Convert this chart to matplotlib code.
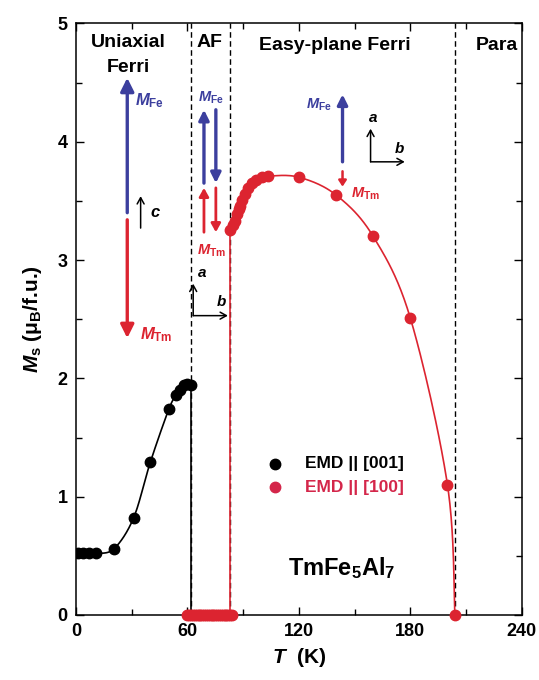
import numpy as np
import matplotlib
matplotlib.use("Agg")
import matplotlib.pyplot as plt
from matplotlib.ticker import MultipleLocator

plt.rcParams['font.family'] = ['Liberation Sans', 'DejaVu Sans']
plt.rcParams['font.weight'] = 'bold'
plt.rcParams['mathtext.fontset'] = 'custom'
plt.rcParams['mathtext.it'] = 'Liberation Sans:italic:bold'
plt.rcParams['mathtext.rm'] = 'Liberation Sans:bold'
plt.rcParams['mathtext.bf'] = 'Liberation Sans:bold'

# Saturation magnetisation, EMD || [001] (uniaxial ferrimagnet)
T_001 = [1, 4, 7, 11, 20.5, 31, 40, 50, 54, 56, 58, 60, 62]
M_001 = [0.52, 0.52, 0.52, 0.52, 0.56, 0.82, 1.29, 1.74, 1.86, 1.90, 1.94, 1.95, 1.94]

# EMD || [100]: zero moment in the AF range
T_af = list(range(60, 85))
M_af = [0.0] * len(T_af)

# EMD || [100]: easy-plane ferrimagnet
T_100 = [83, 84.5, 85.5, 86.5, 87.5, 88.3, 89.5, 91, 92.5, 94.5, 97, 100, 103.5,
         120, 140, 160, 180, 200, 204]
M_100 = [3.25, 3.30, 3.33, 3.39, 3.43, 3.46, 3.51, 3.56, 3.61, 3.65, 3.68, 3.70, 3.71,
         3.70, 3.55, 3.20, 2.51, 1.10, 0.0]

# Phase boundaries (K)
T_bounds = [62, 83, 204]

BLUE = '#3c3f9e'
RED = '#dc2430'
PINK = '#d4264a'


def smooth(xs, ys, n=24):
    """Catmull-Rom curve through the given points (for the guide line)."""
    P = np.column_stack([xs, ys]).astype(float)
    P = np.vstack([P[0], P, P[-1]])
    out = []
    t = np.linspace(0, 1, n, endpoint=False)[:, None]
    for i in range(1, len(P) - 2):
        p0, p1, p2, p3 = P[i - 1], P[i], P[i + 1], P[i + 2]
        m1 = (p2 - p0) / 2
        m2 = (p3 - p1) / 2
        h00 = 2 * t**3 - 3 * t**2 + 1
        h10 = t**3 - 2 * t**2 + t
        h01 = -2 * t**3 + 3 * t**2
        h11 = t**3 - t**2
        out.append(h00 * p1 + h10 * m1 + h01 * p2 + h11 * m2)
    out.append(P[-2][None, :])
    c = np.vstack(out)
    return c[:, 0], c[:, 1]


fig = plt.figure(figsize=(5.39, 6.80), dpi=100)
ax = fig.add_axes([0.141, 0.0956, 0.827, 0.870])

# phase boundaries
for tb in T_bounds:
    ax.axvline(tb, color='black', ls=(0, (4, 2.5)), lw=1.0, zorder=1)

# guide lines
sx, sy = smooth(T_001, M_001)
ax.plot(sx, sy, color='black', lw=1.2, zorder=2)
ax.plot([T_001[-1], T_001[-1]], [M_001[-1], 0], color='black', lw=1.2, zorder=2)
rx, ry = smooth(T_100, M_100)
ax.plot(rx, ry, color=RED, lw=1.2, zorder=2)
ax.plot([T_100[0], T_100[0]], [0, M_100[0]], color=RED, lw=1.2, zorder=2)

# data points
ax.plot(T_001, M_001, 'o', color='black', ms=7.5, zorder=3)
ax.plot(T_af, M_af, 'o', color=RED, ms=7.5, zorder=3, clip_on=False)
ax.plot(T_100, M_100, 'o', color=RED, ms=7.5, zorder=3, clip_on=False)

ax.set_xlim(0, 240)
ax.set_ylim(0, 5)
ax.xaxis.set_major_locator(MultipleLocator(60))
ax.xaxis.set_minor_locator(MultipleLocator(30))
ax.yaxis.set_major_locator(MultipleLocator(1))
ax.yaxis.set_minor_locator(MultipleLocator(0.5))
ax.tick_params(which='both', direction='in', top=True, right=True, width=1.0,
               labelsize=13, pad=6)
ax.tick_params(which='major', length=6)
ax.tick_params(which='minor', length=4)
for lab in ax.get_xticklabels() + ax.get_yticklabels():
    lab.set_fontweight('bold')
for sp in ax.spines.values():
    sp.set_linewidth(1.1)

ax.set_xlabel(r'$T$  (K)', fontsize=15, fontweight='bold', labelpad=4)
ax.set_ylabel(r'$M_{\mathrm{s}}$ (μ$_{\mathrm{B}}$/f.u.)', fontsize=15,
              fontweight='bold', labelpad=10)

# phase names
ax.text(28, 4.84, 'Uniaxial', ha='center', va='center', fontsize=14, fontweight='bold')
ax.text(28, 4.63, 'Ferri', ha='center', va='center', fontsize=14, fontweight='bold')
ax.text(72, 4.84, 'AF', ha='center', va='center', fontsize=14, fontweight='bold')
ax.text(139.4, 4.81, 'Easy-plane Ferri', ha='center', va='center', fontsize=14,
        fontweight='bold')
ax.text(226.6, 4.81, 'Para', ha='center', va='center', fontsize=14,
        fontweight='bold')


def arrow(x0, y0, x1, y1, color, lw=2.6, hw=9, hl=14):
    ax.annotate('', xy=(x1, y1), xytext=(x0, y0),
                arrowprops=dict(arrowstyle=f'-|>,head_width={hw/20:.2f},head_length={hl/20:.2f}',
                                color=color, lw=lw, shrinkA=0, shrinkB=0),
                zorder=4)


def thin_arrow(x0, y0, x1, y1):
    ax.annotate('', xy=(x1, y1), xytext=(x0, y0),
                arrowprops=dict(arrowstyle='->,head_width=0.25,head_length=0.45',
                                color='black', lw=1.1, shrinkA=0, shrinkB=0),
                zorder=4)


# uniaxial ferrimagnet moments
arrow(27.6, 3.40, 27.6, 4.54, BLUE, lw=2.4, hw=8, hl=16)
arrow(27.6, 3.34, 27.6, 2.34, RED, lw=2.4, hw=8, hl=16)
ax.text(31.8, 4.35, r'$M_{\mathrm{Fe}}$', color=BLUE, fontsize=12, ha='left', va='center')
ax.text(34.4, 2.37, r'$M_{\mathrm{Tm}}$', color=RED, fontsize=12, ha='left', va='center')
thin_arrow(34.8, 3.27, 34.8, 3.54)
ax.text(40.0, 3.40, r'$c$', fontsize=12, ha='left', va='center')

# antiferromagnet moments
arrow(68.9, 3.65, 68.9, 4.27, BLUE, lw=2.4, hw=6, hl=12)
arrow(75.3, 4.27, 75.3, 3.65, BLUE, lw=2.4, hw=6, hl=12)
arrow(68.9, 3.235, 68.9, 3.61, RED, lw=2.0, hw=5.5, hl=10)
arrow(75.3, 3.61, 75.3, 3.235, RED, lw=2.0, hw=5.5, hl=10)
ax.text(72.9, 4.375, r'$M_{\mathrm{Fe}}$', color=BLUE, fontsize=10.5, ha='center', va='center')
ax.text(72.7, 3.08, r'$M_{\mathrm{Tm}}$', color=RED, fontsize=10.5, ha='center', va='center')
thin_arrow(63.1, 2.53, 63.1, 2.80)
thin_arrow(63.1, 2.53, 81.8, 2.53)
ax.text(67.7, 2.89, r'$a$', fontsize=11, ha='center', va='center')
ax.text(78.4, 2.65, r'$b$', fontsize=11, ha='center', va='center')

# easy-plane ferrimagnet moments
arrow(143.5, 3.83, 143.5, 4.40, BLUE, lw=2.4, hw=6, hl=12)
arrow(143.5, 3.75, 143.5, 3.62, RED, lw=1.8, hw=4.5, hl=7)
ax.text(131, 4.31, r'$M_{\mathrm{Fe}}$', color=BLUE, fontsize=10.5, ha='center', va='center')
ax.text(156, 3.56, r'$M_{\mathrm{Tm}}$', color=RED, fontsize=10.5, ha='center', va='center')
thin_arrow(158.6, 3.83, 158.6, 4.11)
thin_arrow(158.6, 3.83, 177, 3.83)
ax.text(159.8, 4.20, r'$a$', fontsize=11, ha='center', va='center')
ax.text(174.4, 3.94, r'$b$', fontsize=11, ha='center', va='center')

# legend
ax.plot([107], [1.28], 'o', color='black', ms=7.5)
ax.plot([107], [1.08], 'o', color=PINK, ms=7.5)
ax.text(123.2, 1.28, 'EMD || [001]', fontsize=12.5, fontweight='bold', va='center')
ax.text(123.2, 1.08, 'EMD || [100]', fontsize=12.5, fontweight='bold', va='center',
        color=PINK)

ax.text(143, 0.40, r'TmFe$_{\mathrm{5}}$Al$_{\mathrm{7}}$', fontsize=17,
        fontweight='bold', ha='center', va='center')

fig.savefig('out.png', dpi=100)
